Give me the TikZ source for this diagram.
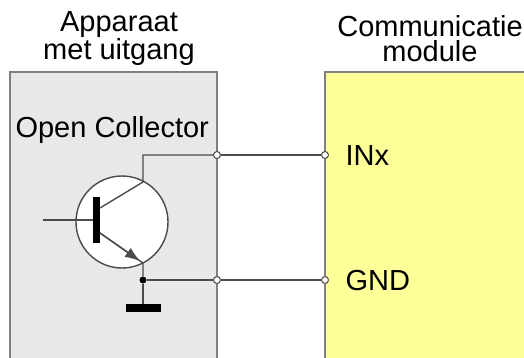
\documentclass[tikz,border=0pt]{standalone}
\usepackage{fontspec}
\setmainfont{Liberation Sans}
\usetikzlibrary{arrows.meta}
\definecolor{boxgray}{RGB}{232,232,232}
\definecolor{modyellow}{RGB}{255,255,153}
\definecolor{wiregray}{RGB}{75,75,75}
\tikzset{
  terminal/.style={circle, draw=wiregray, fill=white, inner sep=0pt, minimum size=7pt, line width=1pt},
  junction/.style={circle, fill=black, inner sep=0pt, minimum size=7pt},
  wire/.style={draw=wiregray, line width=1.4pt},
  titletext/.style={align=center, anchor=base}
}
\begin{document}
\begin{tikzpicture}[x=1pt, y=-1pt, font=\fontsize{29}{25}\selectfont]
    \useasboundingbox (0,0) rectangle (524,358);
    \clip (0,0) rectangle (524,358);
    % the two boxes
    \filldraw [fill=boxgray, draw=gray, line width=1.3pt] (10,72) rectangle (217,370);
    \filldraw [fill=modyellow, draw=gray, line width=1.3pt] (325,72) rectangle (540,370);
    \node [titletext] (dev) at (119,60) {Apparaat\\met uitgang};
    \node [titletext] (mod) at (430,62) {Communicatie\\module};
    \node [anchor=base west] (oc) at (12,138) {Open Collector};
    \node [anchor=base west] (inx) at (342,165) {INx};
    \node [anchor=base west] (gnd) at (342,290) {GND};
    % transistor
    \node [circle, draw=wiregray, fill=white, line width=1.4pt, minimum size=92pt, inner sep=0pt] (q) at (122,222) {};
    \node [fill=black, inner sep=0pt, minimum width=7pt, minimum height=46pt] (base) at (96.5,220) {};
    \coordinate (bin) at (43,220);
    \coordinate (bc) at (100,208);
    \coordinate (be) at (100,233);
    \coordinate (col) at (143,182);
    \coordinate (emi) at (143,263);
    \coordinate (ctop) at (143,155);
    \node [junction] (j) at (143,280) {};
    \node [fill=black, inner sep=0pt, minimum width=35pt, minimum height=8pt] (gr) at (143,308) {};
    % terminals
    \foreach \n/\x/\y in {t1/217/155, t2/217/280, m1/325/155, m2/325/280} {
      \node [terminal] (\n) at (\x,\y) {};
    }
    \draw [wire] (bin) -- (base.west);
    \draw [wire] (bc) -- (col) -- (ctop) -- (t1);
    \draw [wire] (be) -- (emi) -- (j);
    \draw [wire, -{Latex[length=15pt, width=11pt]}] (be) -- (140,261);
    \draw [wire] (j) -- (gr.north);
    \draw [wire] (j) -- (t2);
    \draw [wire] (t1) -- (m1);
    \draw [wire] (t2) -- (m2);
\end{tikzpicture}
\end{document}
